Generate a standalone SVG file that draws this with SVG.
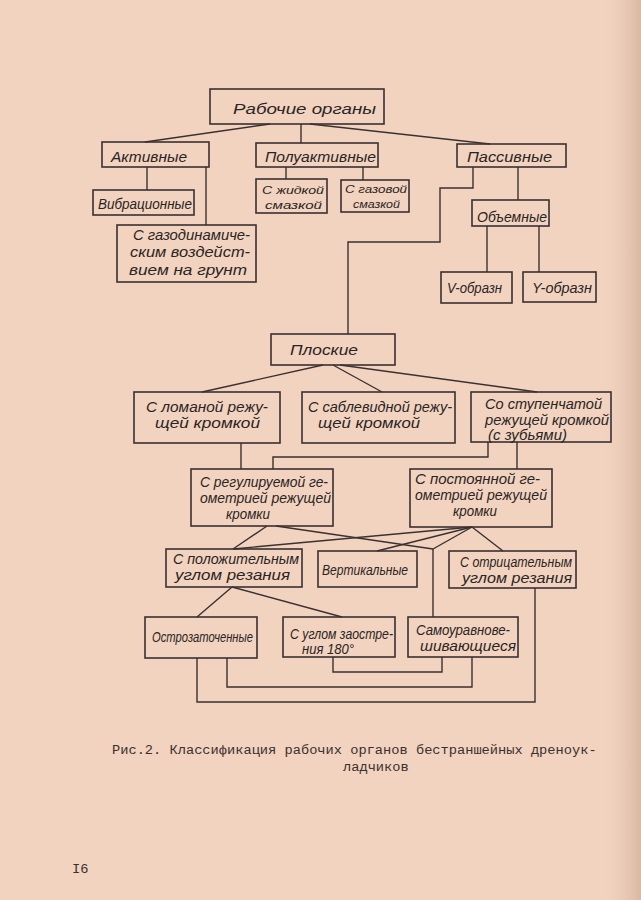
<svg xmlns="http://www.w3.org/2000/svg" width="641" height="900" viewBox="0 0 641 900">
<defs>
<linearGradient id="edge" x1="0" y1="0" x2="1" y2="0">
<stop offset="0" stop-color="#f1d3bf" stop-opacity="0"/>
<stop offset="1" stop-color="#d9b7a3" stop-opacity="1"/>
</linearGradient>
<style>
.b{fill:none;stroke:#3a3131;stroke-width:1.6}
.c line,.c polyline{fill:none;stroke:#3a3131;stroke-width:1.4}
.t{font-family:"Liberation Sans","DejaVu Sans",sans-serif;font-style:italic;font-size:14px;fill:#2b2424}
.s{font-size:11.5px}
.cap{font-family:"Liberation Mono","DejaVu Sans Mono",monospace;font-size:13.7px;fill:#3b302e}
</style>
</defs>
<rect x="0" y="0" width="641" height="900" fill="#f1d3bf"/>
<rect x="600" y="0" width="41" height="900" fill="url(#edge)"/>

<g class="c" id="connectors">
<line x1="270" y1="124" x2="145" y2="142"/>
<line x1="301" y1="124" x2="301" y2="143"/>
<line x1="310" y1="124" x2="490" y2="144"/>
<line x1="147" y1="167" x2="147" y2="190"/>
<line x1="206" y1="167" x2="206" y2="225"/>
<line x1="286" y1="167" x2="286" y2="179"/>
<line x1="363" y1="167" x2="363" y2="180"/>
<polyline points="473,167 473,188 440,188 440,242 348,242 348,334"/>
<line x1="518" y1="167" x2="518" y2="200"/>
<line x1="487" y1="226" x2="487" y2="272"/>
<line x1="539" y1="226" x2="539" y2="272"/>
<line x1="323" y1="365" x2="202" y2="392"/>
<line x1="333" y1="365" x2="382" y2="392"/>
<line x1="340" y1="365" x2="537" y2="392"/>
<line x1="241" y1="443" x2="241" y2="469"/>
<polyline points="488,442 488,457 273,457 273,469"/>
<line x1="517" y1="442" x2="517" y2="469"/>
<line x1="267" y1="526" x2="233" y2="549"/>
<line x1="276" y1="526" x2="433" y2="549"/>
<line x1="472" y1="527" x2="233" y2="549"/>
<line x1="472" y1="527" x2="377" y2="551"/>
<line x1="472" y1="527" x2="433" y2="549"/>
<line x1="472" y1="527" x2="503" y2="551"/>
<line x1="433" y1="549" x2="433" y2="617"/>
<line x1="232" y1="587" x2="197" y2="617"/>
<line x1="232" y1="587" x2="342" y2="617"/>
<polyline points="535,588 535,702 197,702 197,658"/>
<polyline points="227,658 227,687 472,687 472,657"/>
<polyline points="333,657 333,672 442,672 442,657"/>
</g>

<g id="n-rabochie"><rect class="b" x="210" y="89" width="174" height="35"/><text class="t" x="233" y="114" font-size="19" textLength="143" lengthAdjust="spacingAndGlyphs">Рабочие органы</text></g>
<g id="n-aktivnye"><rect class="b" x="102" y="142" width="107" height="25"/><text class="t" x="111" y="162" font-size="15" textLength="76" lengthAdjust="spacingAndGlyphs">Активные</text></g>
<g id="n-poluaktivnye"><rect class="b" x="256" y="143" width="122" height="24"/><text class="t" x="265" y="162" font-size="15" textLength="111" lengthAdjust="spacingAndGlyphs">Полуактивные</text></g>
<g id="n-passivnye"><rect class="b" x="457" y="144" width="109" height="23"/><text class="t" x="467" y="162" font-size="15" textLength="85" lengthAdjust="spacingAndGlyphs">Пассивные</text></g>
<g id="n-vibracionnye"><rect class="b" x="93" y="190" width="101" height="25"/><text class="t" x="98" y="209" font-size="15" textLength="94" lengthAdjust="spacingAndGlyphs">Вибрационные</text></g>
<g id="n-gazodin"><rect class="b" x="117" y="225" width="139" height="57"/><text class="t" x="133" y="240" textLength="117" lengthAdjust="spacingAndGlyphs">С газодинамиче-</text><text class="t" x="130" y="257" textLength="120" lengthAdjust="spacingAndGlyphs">ским воздейст-</text><text class="t" x="129" y="275" textLength="118" lengthAdjust="spacingAndGlyphs">вием на грунт</text></g>
<g id="n-zhidkoy"><rect class="b" x="256" y="179" width="71" height="34"/><text class="t s" x="262" y="194" textLength="62" lengthAdjust="spacingAndGlyphs">С жидкой</text><text class="t s" x="265" y="209" textLength="57" lengthAdjust="spacingAndGlyphs">смазкой</text></g>
<g id="n-gazovoy"><rect class="b" x="341" y="180" width="68" height="32"/><text class="t s" x="345" y="193" textLength="62" lengthAdjust="spacingAndGlyphs">С газовой</text><text class="t s" x="353" y="208" textLength="47" lengthAdjust="spacingAndGlyphs">смазкой</text></g>
<g id="n-obemnye"><rect class="b" x="472" y="200" width="77" height="26"/><text class="t" x="477" y="222" font-size="15" textLength="70" lengthAdjust="spacingAndGlyphs">Объемные</text></g>
<g id="n-v"><rect class="b" x="441" y="272" width="71" height="31"/><text class="t" x="447" y="293" textLength="55" lengthAdjust="spacingAndGlyphs">V-образн</text></g>
<g id="n-y"><rect class="b" x="523" y="272" width="73" height="30"/><text class="t" x="532" y="293" textLength="60" lengthAdjust="spacingAndGlyphs">Y-образн</text></g>
<g id="n-ploskie"><rect class="b" x="271" y="334" width="124" height="31"/><text class="t" x="290" y="355" textLength="68" lengthAdjust="spacingAndGlyphs">Плоские</text></g>
<g id="n-lomanoy"><rect class="b" x="134" y="392" width="146" height="51"/><text class="t" x="146" y="412" textLength="122" lengthAdjust="spacingAndGlyphs">С ломаной режу-</text><text class="t" x="155" y="428" textLength="105" lengthAdjust="spacingAndGlyphs">щей кромкой</text></g>
<g id="n-sablevid"><rect class="b" x="302" y="392" width="153" height="51"/><text class="t" x="308" y="412" textLength="144" lengthAdjust="spacingAndGlyphs">С саблевидной режу-</text><text class="t" x="318" y="428" textLength="102" lengthAdjust="spacingAndGlyphs">щей кромкой</text></g>
<g id="n-stupench"><rect class="b" x="471" y="392" width="140" height="50"/><text class="t" x="485" y="409" textLength="117" lengthAdjust="spacingAndGlyphs">Со ступенчатой</text><text class="t" x="485" y="425" textLength="124" lengthAdjust="spacingAndGlyphs">режущей кромкой</text><text class="t" x="488" y="440" textLength="79" lengthAdjust="spacingAndGlyphs">(с зубьями)</text></g>
<g id="n-reguliruem"><rect class="b" x="191" y="469" width="142" height="57"/><text class="t" x="200" y="487" textLength="128" lengthAdjust="spacingAndGlyphs">С регулируемой ге-</text><text class="t" x="200" y="503" textLength="131" lengthAdjust="spacingAndGlyphs">ометрией режущей</text><text class="t" x="226" y="519" textLength="44" lengthAdjust="spacingAndGlyphs">кромки</text></g>
<g id="n-postoyan"><rect class="b" x="410" y="469" width="142" height="58"/><text class="t" x="415" y="484" textLength="125" lengthAdjust="spacingAndGlyphs">С постоянной ге-</text><text class="t" x="415" y="500" textLength="132" lengthAdjust="spacingAndGlyphs">ометрией режущей</text><text class="t" x="453" y="516" textLength="44" lengthAdjust="spacingAndGlyphs">кромки</text></g>
<g id="n-polozh"><rect class="b" x="166" y="549" width="136" height="38"/><text class="t" x="173" y="564" textLength="126" lengthAdjust="spacingAndGlyphs">С положительным</text><text class="t" x="175" y="580" textLength="115" lengthAdjust="spacingAndGlyphs">углом резания</text></g>
<g id="n-vertikal"><rect class="b" x="318" y="551" width="99" height="36"/><text class="t" x="322" y="575" textLength="86" lengthAdjust="spacingAndGlyphs">Вертикальные</text></g>
<g id="n-otric"><rect class="b" x="449" y="551" width="127" height="37"/><text class="t" x="460" y="567" textLength="112" lengthAdjust="spacingAndGlyphs">С отрицательным</text><text class="t" x="462" y="583" textLength="110" lengthAdjust="spacingAndGlyphs">углом резания</text></g>
<g id="n-ostro"><rect class="b" x="145" y="617" width="112" height="41"/><text class="t" x="152" y="642" textLength="101" lengthAdjust="spacingAndGlyphs">Острозаточенные</text></g>
<g id="n-uglom"><rect class="b" x="283" y="617" width="112" height="40"/><text class="t" x="290" y="639" textLength="103" lengthAdjust="spacingAndGlyphs">С углом заостре-</text><text class="t" x="302" y="654" textLength="52" lengthAdjust="spacingAndGlyphs">ния 180°</text></g>
<g id="n-samouravn"><rect class="b" x="408" y="617" width="110" height="40"/><text class="t" x="416" y="635" textLength="94" lengthAdjust="spacingAndGlyphs">Самоуравнове-</text><text class="t" x="420" y="651" textLength="96" lengthAdjust="spacingAndGlyphs">шивающиеся</text></g>

<text class="cap" x="112" y="754">Рис.2.  Классификация рабочих органов бестраншейных дреноук-</text>
<text class="cap" x="343" y="771">ладчиков</text>
<text class="cap" x="72" y="873" font-size="14">I6</text>
</svg>
